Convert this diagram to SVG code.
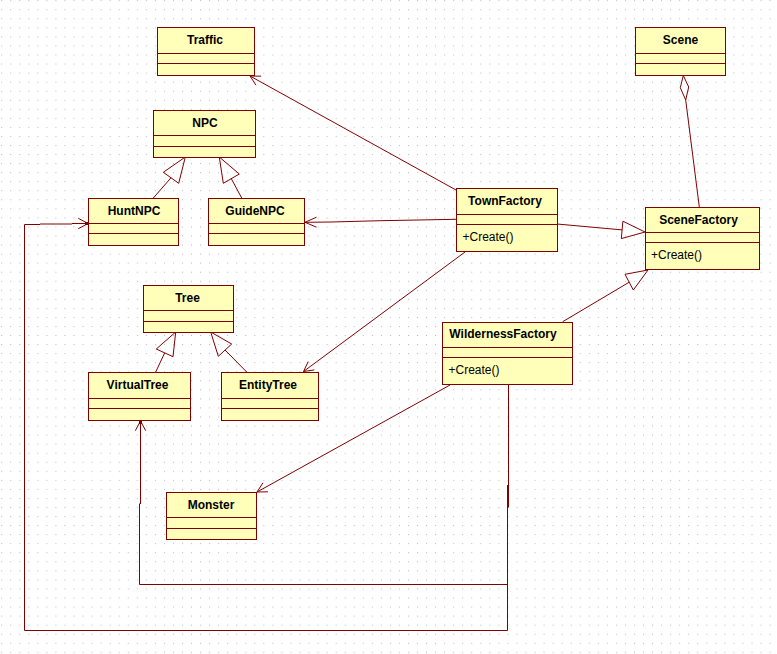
<svg xmlns="http://www.w3.org/2000/svg" width="777" height="654" viewBox="0 0 777 654">
<defs>
<pattern id="grid" x="1.2" y="0.2" width="9.04" height="9.05" patternUnits="userSpaceOnUse">
<rect x="0" y="0" width="1" height="1" fill="#b8b8b8"/>
</pattern>
</defs>
<style>
.box{fill:#ffffb9;stroke:#800000;stroke-width:1}
.div{stroke:#800000;stroke-width:1}
.name{font-family:"Liberation Sans",Arial,sans-serif;font-weight:bold;font-size:12px;fill:#000;text-anchor:middle}
.op{font-family:"Liberation Sans",Arial,sans-serif;font-size:12px;fill:#000}
.ln{fill:none;stroke:#800000;stroke-width:1}
.tri{fill:none;stroke:#800000;stroke-width:1}
</style>
<rect width="777" height="654" fill="#ffffff"/>
<rect width="777" height="654" fill="url(#grid)"/>

<g id="connectors">
<!-- TownFactory -> Traffic -->
<line class="ln" x1="456" y1="190" x2="250" y2="76"/>
<polyline class="ln" points="256,85.2 250,76 261,76.2"/>
<!-- TownFactory -> GuideNPC -->
<polyline class="ln" points="456,219.3 381,220.7 331,222 305,222.3"/>
<polyline class="ln" points="316.5,217.2 305,222.3 316.5,227.2"/>
<!-- TownFactory -> EntityTree -->
<line class="ln" x1="465" y1="252" x2="303.5" y2="371.5"/>
<polyline class="ln" points="308.2,361.6 303.5,371.5 314.4,369.9"/>
<!-- TownFactory -> SceneFactory (generalization) -->
<line class="ln" x1="557" y1="224" x2="622.1" y2="229.9"/>
<polygon class="tri" points="645,232 622.9,221.2 621.3,238.6"/>
<!-- WildernessFactory -> SceneFactory (generalization) -->
<line class="ln" x1="562.7" y1="321.7" x2="629.2" y2="282.2"/>
<polygon class="tri" points="648,270 625,274.3 633.3,290"/>
<!-- SceneFactory -> Scene (aggregation) -->
<line class="ln" x1="685.7" y1="100" x2="699.3" y2="207"/>
<polygon class="tri" points="683.3,75.5 680.3,87.7 685.7,100 688.7,87"/>
<!-- HuntNPC -> NPC -->
<line class="ln" x1="153.3" y1="198" x2="171" y2="177.8"/>
<polygon class="tri" points="185.3,157 163.3,172.3 178.7,183.3"/>
<!-- GuideNPC -> NPC -->
<line class="ln" x1="241.7" y1="198" x2="231.3" y2="178.7"/>
<polygon class="tri" points="219.3,157 223.3,183.3 239.3,174"/>
<!-- VirtualTree -> Tree -->
<line class="ln" x1="155.7" y1="372" x2="164.7" y2="352.9"/>
<polygon class="tri" points="175.7,332 156.3,349 173,356.7"/>
<!-- EntityTree -> Tree -->
<line class="ln" x1="246.7" y1="372" x2="225" y2="350"/>
<polygon class="tri" points="210.7,332 218.3,356.3 231.7,344"/>
<!-- WildernessFactory -> Monster -->
<line class="ln" x1="450" y1="385" x2="257" y2="492"/>
<polyline class="ln" points="263,482.8 257,492 268,491.8"/>
<!-- WildernessFactory -> VirtualTree / HuntNPC -->
<line class="ln" x1="508.5" y1="384" x2="508.5" y2="507.5"/>
<polyline class="ln" points="507.5,485 507.5,630.5 24.5,630.5 24.5,224.5 40,224.5"/>
<polyline class="ln" points="40,224 72,224"/>
<polyline class="ln" points="72,223.5 88,223.5"/>
<rect x="85" y="222" width="3" height="3" fill="#800000"/>
<polyline class="ln" points="78.3,218.3 88,223.5 78.3,228.7"/>
<polyline class="ln" points="507.5,584.5 139.5,584.5 139.5,503.5"/>
<line class="ln" x1="140.5" y1="504" x2="140.5" y2="421"/>
<rect x="139" y="421" width="3" height="3" fill="#800000"/>
<polyline class="ln" points="135.3,430.7 140.5,421 145.7,430.7"/>
</g>

<g id="Traffic">
<rect class="box" x="157.5" y="27.5" width="97" height="48"/>
<line class="div" x1="157.5" y1="53.5" x2="254.5" y2="53.5"/>
<line class="div" x1="157.5" y1="63.5" x2="254.5" y2="63.5"/>
<text class="name" x="205" y="44">Traffic</text>
</g>
<g id="Scene">
<rect class="box" x="635.5" y="27.5" width="90" height="48"/>
<line class="div" x1="635.5" y1="53.5" x2="725.5" y2="53.5"/>
<line class="div" x1="635.5" y1="63.5" x2="725.5" y2="63.5"/>
<text class="name" x="680.5" y="44">Scene</text>
</g>
<g id="NPC">
<rect class="box" x="153.5" y="110.5" width="102" height="47"/>
<line class="div" x1="153.5" y1="135.5" x2="255.5" y2="135.5"/>
<line class="div" x1="153.5" y1="146.5" x2="255.5" y2="146.5"/>
<text class="name" x="205" y="127">NPC</text>
</g>
<g id="HuntNPC">
<rect class="box" x="88.5" y="198.5" width="90" height="47"/>
<line class="div" x1="88.5" y1="223.5" x2="178.5" y2="223.5"/>
<line class="div" x1="88.5" y1="233.5" x2="178.5" y2="233.5"/>
<text class="name" x="134" y="215">HuntNPC</text>
</g>
<g id="GuideNPC">
<rect class="box" x="208.5" y="198.5" width="96" height="47"/>
<line class="div" x1="208.5" y1="223.5" x2="304.5" y2="223.5"/>
<line class="div" x1="208.5" y1="233.5" x2="304.5" y2="233.5"/>
<text class="name" x="255" y="215">GuideNPC</text>
</g>
<g id="TownFactory">
<rect class="box" x="456.5" y="188.5" width="101" height="63"/>
<line class="div" x1="456.5" y1="214.5" x2="557.5" y2="214.5"/>
<line class="div" x1="456.5" y1="224.5" x2="557.5" y2="224.5"/>
<text class="name" x="505" y="205">TownFactory</text>
<text class="op" x="462.5" y="241">+Create()</text>
</g>
<g id="SceneFactory">
<rect class="box" x="645.5" y="207.5" width="114" height="62"/>
<line class="div" x1="645.5" y1="232.5" x2="759.5" y2="232.5"/>
<line class="div" x1="645.5" y1="242.5" x2="759.5" y2="242.5"/>
<text class="name" x="698.5" y="223.5">SceneFactory</text>
<text class="op" x="651" y="259">+Create()</text>
</g>
<g id="Tree">
<rect class="box" x="143.5" y="285.5" width="90" height="47"/>
<line class="div" x1="143.5" y1="310.5" x2="233.5" y2="310.5"/>
<line class="div" x1="143.5" y1="321.5" x2="233.5" y2="321.5"/>
<text class="name" x="187.5" y="302">Tree</text>
</g>
<g id="VirtualTree">
<rect class="box" x="88.5" y="372.5" width="102" height="48"/>
<line class="div" x1="88.5" y1="398.5" x2="190.5" y2="398.5"/>
<line class="div" x1="88.5" y1="408.5" x2="190.5" y2="408.5"/>
<text class="name" x="137.5" y="389">VirtualTree</text>
</g>
<g id="EntityTree">
<rect class="box" x="221.5" y="372.5" width="97" height="48"/>
<line class="div" x1="221.5" y1="398.5" x2="318.5" y2="398.5"/>
<line class="div" x1="221.5" y1="408.5" x2="318.5" y2="408.5"/>
<text class="name" x="268" y="389">EntityTree</text>
</g>
<g id="WildernessFactory">
<rect class="box" x="442.5" y="322.5" width="130" height="62"/>
<line class="div" x1="442.5" y1="347.5" x2="572.5" y2="347.5"/>
<line class="div" x1="442.5" y1="357.5" x2="572.5" y2="357.5"/>
<text class="name" x="503" y="338">WildernessFactory</text>
<text class="op" x="448.5" y="374">+Create()</text>
</g>
<g id="Monster">
<rect class="box" x="166.5" y="492.5" width="90" height="47"/>
<line class="div" x1="166.5" y1="517.5" x2="256.5" y2="517.5"/>
<line class="div" x1="166.5" y1="528.5" x2="256.5" y2="528.5"/>
<text class="name" x="211" y="509">Monster</text>
</g>
</svg>
